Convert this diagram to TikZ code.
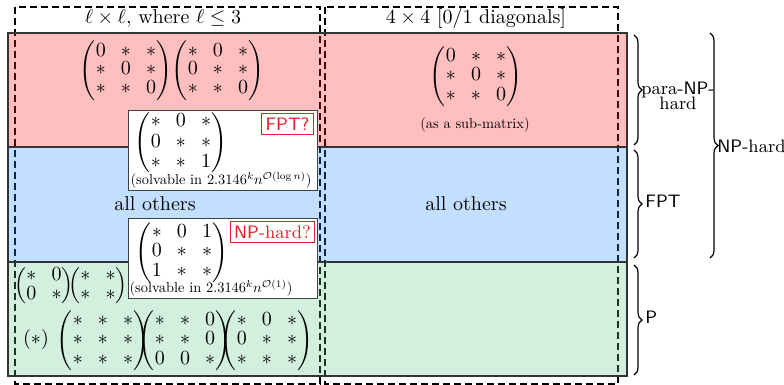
\documentclass[tikz,border=0pt]{standalone}
\usepackage{amsmath}
\usepackage{graphicx}
\usetikzlibrary{decorations.pathreplacing}
\newcommand{\mymat}[2][0.8]{{\setlength{\arraycolsep}{3.8pt}\renewcommand{\arraystretch}{#1}\begin{pmatrix}#2\end{pmatrix}}}
\newcommand{\smalltxt}[1]{\scalebox{0.72}{#1}}
\definecolor{bandred}{RGB}{255,20,20}
\definecolor{bandblue}{RGB}{35,135,255}
\definecolor{bandgreen}{RGB}{92,196,133}
\definecolor{lblred}{RGB}{235,30,40}
\tikzset{
  dashbox/.style={draw=black, line width=0.8pt, dash pattern=on 3.5pt off 2pt},
  band/.style={fill opacity=0.27, draw opacity=1},
  bandline/.style={draw=black!80, line width=0.6pt},
  wbox/.style={draw=black!75, line width=0.6pt, fill=white, inner sep=0pt, anchor=north west},
  qlabel/.style={draw=lblred, text=lblred, line width=0.5pt, inner xsep=2pt, inner ysep=2pt, font=\small},
  brc/.style={decorate, decoration={brace, amplitude=4pt}, line width=0.6pt},
  mt/.style={inner sep=0pt},
}
\begin{document}
\begin{tikzpicture}[x=0.5pt,y=-0.5pt]
\useasboundingbox (0,0) rectangle (784,385);
% dashed column boxes
\draw[dashbox] (15,7) rectangle (320,384);
\draw[dashbox] (325,7) rectangle (618,384);
% bands
\fill[bandred, band] (8,33) rectangle (627,147);
\fill[bandblue, band] (8,147) rectangle (627,262);
\fill[bandgreen, band] (8,262) rectangle (627,376);
\draw[bandline] (8,33) rectangle (627,376);
\draw[bandline] (8,147) -- (627,147);
\draw[bandline] (8,262) -- (627,262);
% headers
\node (hl) at (163,19) {$\ell\times\ell,$ where $\ell\leq 3$};
\node (hr) at (476,19) {$4\times 4$ [0/1 diagonals]};
% red band
\node[mt] (m1) at (126,71) {$\mymat[0.78]{0&*&*\\ *&0&*\\ *&*&0}$};
\node[mt] (m2) at (218,71) {$\mymat[0.78]{*&0&*\\ 0&*&*\\ *&*&0}$};
\node[mt] (m3) at (476,77) {$\mymat[0.81]{0&*&*\\ *&0&*\\ *&*&0}$};
\node (sub) at (475,125) {\smalltxt{(as a sub-matrix)}};
% blue band
\node (ao1) at (155,204) {all others};
\node (ao2) at (466,204) {all others};
% FPT? box
\node[wbox, minimum width=94.5pt, minimum height=40pt] (fptbox) at (128,110) {};
\node[mt] (m4) at (181,143) {$\mymat[0.85]{*&0&*\\ 0&*&*\\ *&*&1}$};
\node[qlabel] (fptq) at (287.5,124) {\textsf{FPT?}};
\node (solv1) at (221,180) {\smalltxt{(solvable in $2.3146^k n^{\mathcal{O}(\log n)}$)}};
% NP-hard? box
\node[wbox, minimum width=94.5pt, minimum height=40pt] (npbox) at (128,218) {};
\node[mt] (m5) at (182,253) {$\mymat[0.82]{*&0&1\\ 0&*&*\\ 1&*&*}$};
\node[qlabel] (npq) at (272.5,232) {\textsf{NP}-hard?};
\node (solv2) at (211,288) {\smalltxt{(solvable in $2.3146^k n^{\mathcal{O}(1)}$)}};
% green band
\node[mt] (m6a) at (44,286) {$\mymat{*&0\\ 0&*}$};
\node[mt] (m6b) at (98,286) {$\mymat{*&*\\ *&*}$};
\node (star) at (36,340) {$(*)$};
\node[mt] (m7a) at (103,341) {$\mymat{*&*&*\\ *&*&*\\ *&*&*}$};
\node[mt] (m7b) at (185,341) {$\mymat{*&*&0\\ *&*&0\\ 0&0&*}$};
\node[mt] (m7c) at (267,341) {$\mymat{*&0&*\\ 0&*&*\\ *&*&*}$};
% braces
\coordinate (b1t) at (634,35);  \coordinate (b1b) at (634,145);
\coordinate (b2t) at (634,150); \coordinate (b2b) at (634,258);
\coordinate (b3t) at (634,265); \coordinate (b3b) at (634,375);
\coordinate (b4t) at (710,33);  \coordinate (b4b) at (710,258);
\draw[brc] (b1t) -- (b1b);
\draw[brc] (b2t) -- (b2b);
\draw[brc] (b3t) -- (b3b);
\draw[brc] (b4t) -- (b4b);
\node[align=center, font=\small, inner sep=0pt] (lpara) at (678,96) {para-\textsf{NP}-\\[-3.5pt]hard};
\node[anchor=west, font=\small, inner sep=0pt] (lfpt) at (645,201) {\textsf{FPT}};
\node[anchor=west, font=\small, inner sep=0pt] (lp) at (645,317) {\textsf{P}};
\node[anchor=west, font=\small, inner sep=0pt] (lnp) at (717,146) {\textsf{NP}-hard};
\end{tikzpicture}
\end{document}
